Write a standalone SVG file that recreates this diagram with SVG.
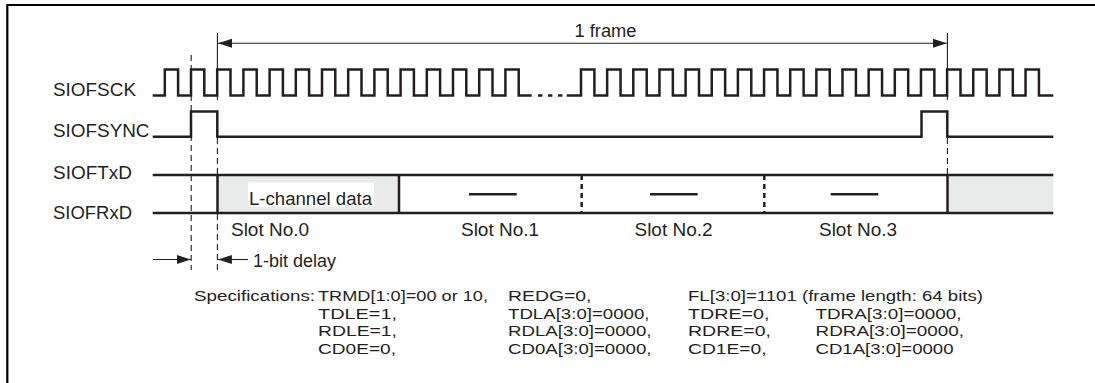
<svg xmlns="http://www.w3.org/2000/svg" width="1095" height="383" viewBox="0 0 1095 383">
<style>
.lbl{font-family:"Liberation Sans",Arial,Helvetica,sans-serif;font-size:17.5px;fill:#231f20}
.spec{font-family:"Liberation Sans",Arial,Helvetica,sans-serif;font-size:15.5px;fill:#231f20}
.sig{fill:none;stroke:#231f20;stroke-width:2.5;stroke-linejoin:miter;stroke-linecap:butt}
.thin{fill:none;stroke:#231f20;stroke-width:1.1}
.dash{fill:none;stroke:#231f20;stroke-width:1.1;stroke-dasharray:6 4}
.sep{fill:none;stroke:#231f20;stroke-width:2.5;stroke-dasharray:5 4}
.gray{fill:#e9eaea}
</style>
<defs>
<marker id="arr" markerUnits="userSpaceOnUse" markerWidth="14" markerHeight="10" refX="14" refY="5" orient="auto-start-reverse" viewBox="0 0 14 10">
<path d="M0,0.5 L14,5 L0,9.5 z" fill="#231f20"/>
</marker>
</defs>
<rect width="1095" height="383" fill="#fff"/>
<g id="border">
<path d="M7.3,383 V5 H1095" fill="none" stroke="#000" stroke-width="2.2"/>
</g>
<g id="labels">
<text class="lbl" x="53" y="96" textLength="83" lengthAdjust="spacingAndGlyphs">SIOFSCK</text>
<text class="lbl" x="53" y="137.3" textLength="96.5" lengthAdjust="spacingAndGlyphs">SIOFSYNC</text>
<text class="lbl" x="53" y="179" textLength="79" lengthAdjust="spacingAndGlyphs">SIOFTxD</text>
<text class="lbl" x="53" y="219.3" textLength="79" lengthAdjust="spacingAndGlyphs">SIOFRxD</text>
</g>
<g id="frame-marker">
<text class="lbl" x="605.5" y="37.3" text-anchor="middle" textLength="62" lengthAdjust="spacingAndGlyphs">1 frame</text>
</g>
<g id="sck">
<path class="sig" d="M152.7,95.5 H164.8 v-26h13.3v26h12.9 v-26h13.3v26h12.9 v-26h13.3v26h12.9 v-26h13.3v26h12.9 v-26h13.3v26h12.9 v-26h13.3v26h12.9 v-26h13.3v26h12.9 v-26h13.3v26h12.9 v-26h13.3v26h12.9 v-26h13.3v26h12.9 v-26h13.3v26h12.9 v-26h13.3v26h12.9 v-26h13.3v26h12.9 v-26h13.3v26 H531.7"/>
<line class="sig" x1="538" y1="95.5" x2="563" y2="95.5" style="stroke-dasharray:4.4 5.6"/>
<path class="sig" d="M566.7,95.5 H581 v-26h13.4v26h12.75 v-26h13.4v26h12.75 v-26h13.4v26h12.75 v-26h13.4v26h12.75 v-26h13.4v26h12.75 v-26h13.4v26h12.75 v-26h13.4v26h12.75 v-26h13.4v26h12.75 v-26h13.4v26h12.75 v-26h13.4v26h12.75 v-26h13.4v26h12.75 v-26h13.4v26h12.75 v-26h13.4v26h12.75 v-26h13.4v26h12.75 v-26h13.4v26h12.75 v-26h13.4v26h12.75 v-26h13.4v26h12.75 v-26h13.4v26 H1053.3"/>
</g>
<g id="sync">
<path class="sig" d="M152.7,136.7 H191 V111.5 H217.3 V136.7 H921.5 V111.5 H947.3 V136.7 H1053.3"/>
</g>
<g id="data">
<rect class="gray" x="217.5" y="175" width="181.5" height="38"/>
<rect class="gray" x="947.5" y="175" width="105.8" height="38"/>
<rect x="248" y="182.7" width="126" height="24" fill="#fff"/>
<text class="lbl" x="249" y="205" textLength="123" lengthAdjust="spacingAndGlyphs">L-channel data</text>
<path class="sig" d="M152.7,175 H1053.3 M152.7,213 H1053.3 M217.5,175 V213 M399,175 V213 M947.5,175 V213"/>
<path class="sep" d="M581.7,175 V213 M764.3,175 V213"/>
<path class="sig" d="M469,194.3 H516.7 M650,194.3 H697.7 M830.7,194.3 H878.3"/>
<text class="lbl" x="270" y="235.5" text-anchor="middle" textLength="78" lengthAdjust="spacingAndGlyphs">Slot No.0</text>
<text class="lbl" x="500" y="235.5" text-anchor="middle" textLength="78" lengthAdjust="spacingAndGlyphs">Slot No.1</text>
<text class="lbl" x="673.5" y="235.5" text-anchor="middle" textLength="78" lengthAdjust="spacingAndGlyphs">Slot No.2</text>
<text class="lbl" x="858" y="235.5" text-anchor="middle" textLength="78" lengthAdjust="spacingAndGlyphs">Slot No.3</text>
</g>
<g id="connectors">
<line class="dash" x1="191.2" y1="55" x2="191.2" y2="270"/>
<line class="thin" x1="217.4" y1="33" x2="217.4" y2="100"/>
<line class="dash" x1="217.4" y1="138" x2="217.4" y2="175"/>
<line class="dash" x1="217.4" y1="214" x2="217.4" y2="270"/>
<line class="thin" x1="947.4" y1="33" x2="947.4" y2="100"/>
<line class="dash" x1="947.4" y1="138" x2="947.4" y2="175"/>
<line class="thin" x1="218" y1="43.3" x2="946.8" y2="43.3" marker-start="url(#arr)" marker-end="url(#arr)"/>
<line class="thin" x1="153" y1="259.5" x2="190.7" y2="259.5" marker-end="url(#arr)"/>
<line class="thin" x1="248" y1="259.5" x2="217.9" y2="259.5" marker-end="url(#arr)"/>
<text class="lbl" x="253" y="267.3" textLength="83" lengthAdjust="spacingAndGlyphs">1-bit delay</text>
</g>
<g id="specs">
<text class="spec" x="194" y="301" textLength="121" lengthAdjust="spacingAndGlyphs">Specifications:</text>
<text class="spec" x="318" y="301" textLength="170" lengthAdjust="spacingAndGlyphs">TRMD[1:0]=00 or 10,</text>
<text class="spec" x="318" y="318.5" textLength="79" lengthAdjust="spacingAndGlyphs">TDLE=1,</text>
<text class="spec" x="318" y="336" textLength="79" lengthAdjust="spacingAndGlyphs">RDLE=1,</text>
<text class="spec" x="318" y="353.5" textLength="78" lengthAdjust="spacingAndGlyphs">CD0E=0,</text>
<text class="spec" x="508" y="301" textLength="83.5" lengthAdjust="spacingAndGlyphs">REDG=0,</text>
<text class="spec" x="508" y="318.5" textLength="141.5" lengthAdjust="spacingAndGlyphs">TDLA[3:0]=0000,</text>
<text class="spec" x="508" y="336" textLength="143.5" lengthAdjust="spacingAndGlyphs">RDLA[3:0]=0000,</text>
<text class="spec" x="508" y="353.5" textLength="143.5" lengthAdjust="spacingAndGlyphs">CD0A[3:0]=0000,</text>
<text class="spec" x="688" y="301" textLength="295" lengthAdjust="spacingAndGlyphs">FL[3:0]=1101 (frame length: 64 bits)</text>
<text class="spec" x="688" y="318.5" textLength="81.5" lengthAdjust="spacingAndGlyphs">TDRE=0,</text>
<text class="spec" x="688" y="336" textLength="83" lengthAdjust="spacingAndGlyphs">RDRE=0,</text>
<text class="spec" x="688" y="353.5" textLength="78.5" lengthAdjust="spacingAndGlyphs">CD1E=0,</text>
<text class="spec" x="815.5" y="318.5" textLength="146" lengthAdjust="spacingAndGlyphs">TDRA[3:0]=0000,</text>
<text class="spec" x="815.5" y="336" textLength="148.5" lengthAdjust="spacingAndGlyphs">RDRA[3:0]=0000,</text>
<text class="spec" x="815.5" y="353.5" textLength="138" lengthAdjust="spacingAndGlyphs">CD1A[3:0]=0000</text>
</g>
</svg>
